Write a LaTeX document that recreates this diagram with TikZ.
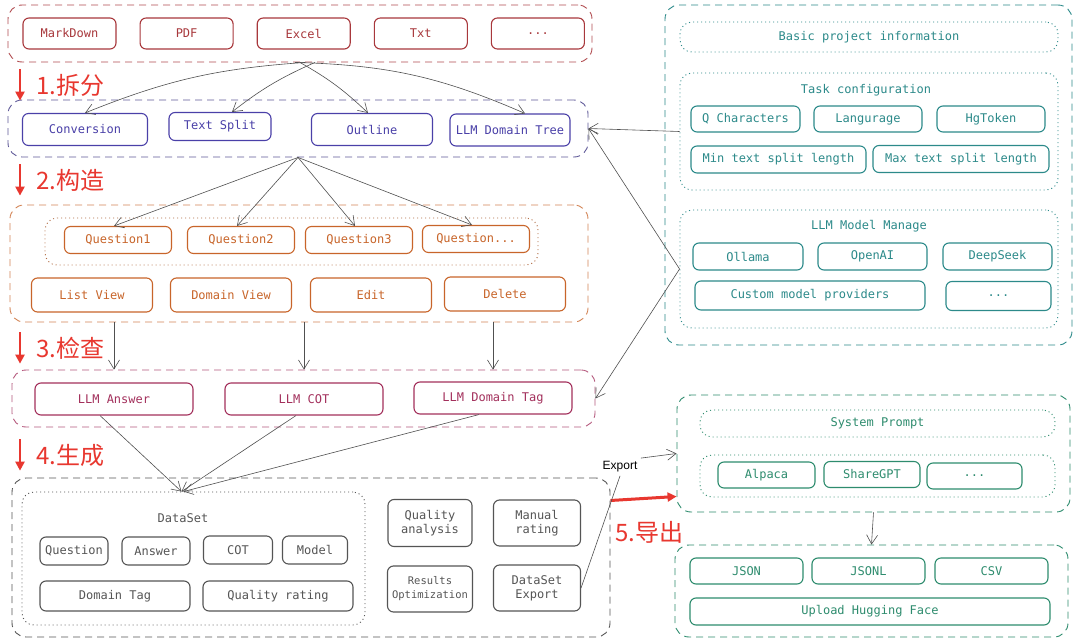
\documentclass[tikz,border=0pt]{standalone}
\usepackage{fontspec}
\setmonofont{DejaVu Sans Mono}
\setsansfont{Liberation Sans}
\newfontfamily\cjk{Noto Sans CJK SC}
\usetikzlibrary{arrows.meta,positioning}
\definecolor{srcRed}{HTML}{A8383C}
\definecolor{splitBlue}{HTML}{4A40A8}
\definecolor{qOrange}{HTML}{C8652A}
\definecolor{chkRose}{HTML}{A3305C}
\definecolor{setGray}{HTML}{555555}
\definecolor{cfgTeal}{HTML}{2C8A8A}
\definecolor{expGreen}{HTML}{2E8C6E}
\definecolor{stageRed}{HTML}{E8372F}
\definecolor{wireGray}{HTML}{505050}

\begin{document}
\begin{tikzpicture}[x=1pt, y=1pt,
    every node/.style={font=\ttfamily\fontsize{12}{14}\selectfont},
    grp/.style={draw=#1, rounded corners=14pt, line width=0.9pt,
                dash pattern=on 7pt off 5pt},
    sub/.style={draw=#1, rounded corners=12pt, line width=0.9pt,
                dash pattern=on 1pt off 3pt},
    item/.style={draw=#1, text=#1, rounded corners=6pt, line width=1.1pt,
                 minimum height=30pt, inner sep=2pt, align=center},
    stage/.style={text=stageRed, font=\cjk\fontsize{24}{26}\selectfont, anchor=west},
    stagearr/.style={-{Triangle[length=9pt,width=9pt]}, stageRed, line width=2.2pt},
    arr/.style={-{Straight Barb[length=9pt,width=11pt]}, wireGray, line width=0.6pt},
  ]
  \useasboundingbox[fill=white] (0,0) rectangle (1080,-643);

  % Source files
  \node[grp=srcRed!90, minimum width=584, minimum height=57] (src) at (300,-33.5) {};
  \node[item=srcRed, minimum width=93, minimum height=31] (md) at (69.5,-33.5) {MarkDown};
  \node[item=srcRed, minimum width=93, minimum height=31, right=23pt of md] (pdf) {PDF};
  \node[item=srcRed, minimum width=93, minimum height=31, right=23pt of pdf] (xls) {Excel};
  \node[item=srcRed, minimum width=93, minimum height=31, right=23pt of xls] (txt) {Txt};
  \node[item=srcRed, minimum width=93, minimum height=31, right=23pt of txt] (srcmore) {...};

  % Split
  \node[grp=splitBlue!60!gray, minimum width=580, minimum height=57] (split) at (298,-128.5) {};
  \node[item=splitBlue, minimum width=125, minimum height=32] (conv) at (85,-129.5) {Conversion};
  \node[item=splitBlue, minimum width=102, minimum height=28] (tsplit) at (220,-126.5) {Text Split};
  \node[item=splitBlue, minimum width=121, minimum height=32] (outl) at (372,-129.5) {Outline};
  \node[item=splitBlue, minimum width=120, minimum height=32] (dtree) at (510,-130) {LLM Domain Tree};

  % Build questions
  \node[grp=qOrange!80, minimum width=578, minimum height=117] (build) at (299,-263.5) {};
  \node[sub=qOrange!70!gray, minimum width=493, minimum height=47] (qset) at (291.5,-241.5) {};
  \node[item=qOrange, minimum width=107, minimum height=27] (q1) at (118,-240) {Question1};
  \node[item=qOrange, minimum width=107, minimum height=27] (q2) at (241,-240) {Question2};
  \node[item=qOrange, minimum width=107, minimum height=27] (q3) at (359,-240) {Question3};
  \node[item=qOrange, minimum width=107, minimum height=27] (q4) at (476,-239) {Question...};
  \node[item=qOrange, minimum width=121, minimum height=34] (lview) at (92,-295) {List View};
  \node[item=qOrange, minimum width=121, minimum height=34] (dview) at (231,-295) {Domain View};
  \node[item=qOrange, minimum width=121, minimum height=34] (edit) at (371,-295) {Edit};
  \node[item=qOrange, minimum width=121, minimum height=34] (del) at (505,-294) {Delete};

  % Check
  \node[grp=chkRose!80, minimum width=583, minimum height=57] (check) at (303.5,-398.5) {};
  \node[item=chkRose, minimum width=158, minimum height=32] (ans) at (114,-399) {LLM Answer};
  \node[item=chkRose, minimum width=158, minimum height=32] (cot) at (304,-399) {LLM COT};
  \node[item=chkRose, minimum width=158, minimum height=32] (tag) at (493,-398) {LLM Domain Tag};

  % Generate dataset
  \node[grp=setGray, minimum width=598, minimum height=159] (gen) at (311,-557.5) {};
  \node[sub=setGray, minimum width=343, minimum height=133] (ds) at (193.5,-558.5) {};
  \node[text=setGray] (dstitle) at (183,-518) {DataSet};
  \node[item=setGray, minimum width=68, minimum height=28] (fq) at (74,-551) {Question};
  \node[item=setGray, minimum width=68, minimum height=28] (fa) at (156,-551) {Answer};
  \node[item=setGray, minimum width=69, minimum height=28] (fc) at (238,-550) {COT};
  \node[item=setGray, minimum width=65, minimum height=28] (fm) at (315,-550) {Model};
  \node[item=setGray, minimum width=150, minimum height=30] (fdt) at (115,-596) {Domain Tag};
  \node[item=setGray, minimum width=150, minimum height=30] (fqr) at (278,-596) {Quality rating};
  \node[item=setGray, minimum width=84, minimum height=47] (qa) at (430,-523) {Quality\\analysis};
  \node[item=setGray, minimum width=87, minimum height=46] (mr) at (537,-523) {Manual\\rating};
  \node[item=setGray, minimum width=85, minimum height=46,
        font=\ttfamily\fontsize{10.5}{14}\selectfont] (ro) at (430,-589) {Results\\Optimization};
  \node[item=setGray, minimum width=87, minimum height=46] (dsx) at (537,-588) {DataSet\\Export};

  % Project settings
  \node[grp=cfgTeal, minimum width=407, minimum height=340] (cfg) at (868.5,-175) {};
  \node[sub=cfgTeal, minimum width=378, minimum height=30, text=cfgTeal] (basic) at (869,-37)
    {Basic project information};
  \node[sub=cfgTeal, minimum width=378, minimum height=117] (task) at (869,-131.5) {};
  \node[text=cfgTeal] (tasktitle) at (866,-90) {Task configuration};
  \node[item=cfgTeal, minimum width=109, minimum height=26] (qch) at (745.5,-119) {Q Characters};
  \node[item=cfgTeal, minimum width=108, minimum height=26] (lang) at (868,-119) {Langurage};
  \node[item=cfgTeal, minimum width=108, minimum height=26] (hgt) at (991,-119) {HgToken};
  \node[item=cfgTeal, minimum width=175, minimum height=27] (minl) at (778.5,-159.5) {Min text split length};
  \node[item=cfgTeal, minimum width=176, minimum height=27] (maxl) at (961,-159) {Max text split length};
  \node[sub=cfgTeal, minimum width=378, minimum height=118] (llm) at (869,-269) {};
  \node[text=cfgTeal] (llmtitle) at (869,-226) {LLM Model Manage};
  \node[item=cfgTeal, minimum width=110, minimum height=27] (oll) at (748,-256.5) {Ollama};
  \node[item=cfgTeal, minimum width=109, minimum height=27] (oai) at (872.5,-256.5) {OpenAI};
  \node[item=cfgTeal, minimum width=109, minimum height=27] (dsk) at (997.5,-256.5) {DeepSeek};
  \node[item=cfgTeal, minimum width=230, minimum height=29] (cust) at (810,-295.5) {Custom model providers};
  \node[item=cfgTeal, minimum width=105, minimum height=29] (llmmore) at (998.5,-296) {...};

  % Export formats
  \node[grp=expGreen, minimum width=393, minimum height=117] (sys) at (873.5,-453.5) {};
  \node[sub=expGreen, minimum width=355, minimum height=27, text=expGreen] (sprompt) at (877.5,-423.5)
    {System Prompt};
  \node[sub=expGreen, minimum width=355, minimum height=42] (fmt) at (877.5,-476) {};
  \node[item=expGreen, minimum width=97, minimum height=26] (alp) at (766.5,-475) {Alpaca};
  \node[item=expGreen, minimum width=96, minimum height=26] (sgpt) at (872,-474.5) {ShareGPT};
  \node[item=expGreen, minimum width=95, minimum height=26] (fmtmore) at (974.5,-476) {...};
  \node[grp=expGreen, minimum width=393, minimum height=92] (exp) at (871.5,-591) {};
  \node[item=expGreen, minimum width=113, minimum height=26] (json) at (746.5,-571) {JSON};
  \node[item=expGreen, minimum width=113, minimum height=26] (jsonl) at (868.5,-571) {JSONL};
  \node[item=expGreen, minimum width=113, minimum height=26] (csv) at (991.5,-571) {CSV};
  \node[item=expGreen, minimum width=360, minimum height=27] (hf) at (870,-611.5) {Upload Hugging Face};

  % Stage labels
  \foreach \n/\y/\txt in {1/85/拆分, 2/180/构造, 3/348/检查, 4/455/生成} {
    \node[stage] (st\n) at (33,-\y) {\n.\txt};
    \draw[stagearr] ([xshift=-13pt,yshift=1pt]st\n.north west) -- ([xshift=-13pt,yshift=-1pt]st\n.south west);
  }
  \node[stage] (st5) at (612,-532) {5.导出};
  \draw[stagearr, line width=3pt] ([yshift=57pt]gen.east) -- ([yshift=-43pt]sys.west);

  % Connectors
  \draw[arr] ([xshift=5pt]src.south) to[bend right=9] (conv.north);
  \draw[arr] ([xshift=15pt]src.south) to[bend right=7] ([xshift=12pt]tsplit.north);
  \draw[arr] (src.south) to[bend left=7] ([xshift=-4pt]outl.north);
  \draw[arr] ([xshift=-5pt]src.south) to[bend left=11] ([xshift=15pt]dtree.north);
  \foreach \q in {q1,q2,q3,q4}
    \draw[arr] (split.south) -- ([xshift=-4pt]\q.north);
  \foreach \c in {ans,cot,tag}
    \draw[arr] (\c.north |- build.south) -- (\c.north |- check.north);
  \draw[arr] ([xshift=-14pt]ans.south) -- ([xshift=-12pt]ds.north);
  \draw[arr] ([xshift=-8pt]cot.south) -- ([xshift=-12pt]ds.north);
  \draw[arr] ([xshift=-14pt]tag.south) -- ([xshift=-10pt]ds.north);
  \draw[arr] (task.west) -- (split.east);
  \draw[arr] (llm.west) -- (split.east);
  \draw[arr] (llm.west) -- (check.east);
  \node[font=\sffamily\fontsize{12}{14}\selectfont] (exl) at (620,-467) {Export};
  \draw[wireGray, line width=0.6pt] (dsx.east) -- (exl.south);
  \draw[arr] (exl.north east) -- (sys.west);
  \draw[arr] (sys.south) -- (exp.north);
\end{tikzpicture}
\end{document}
